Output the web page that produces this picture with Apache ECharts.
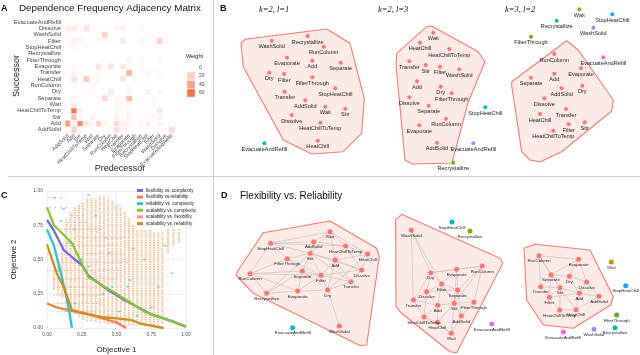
<!DOCTYPE html>
<html>
<head>
<meta charset="utf-8">
<script src="https://cdn.jsdelivr.net/npm/echarts@6/dist/echarts.min.js"></script>
<style>
html,body{margin:0;padding:0;background:#fff}
#main{width:640px;height:355px}
</style>
</head>
<body>
<div id="main"></div>
<script>
// ---------- A: adjacency matrix ----------
var ops = ['AddSolid','Add','Stir','HeatChillToTemp','Wait','Separate','Dry','RunColumn','HeatChill',
  'Transfer','Evaporate','FilterThrough','Recrystallize','StopHeatChill','Filter','WashSolid','Dissolve','EvacuateAndRefill'];

// [predecessor, successor, weight]
var heatCells = [
  ['AddSolid','Add',40],['Add','Add',5],['Stir','Add',50],['HeatChillToTemp','Add',12],['Wait','Add',5],['Separate','Add',18],
  ['Dry','Add',4],['HeatChill','Add',16],['Transfer','Add',6],['Evaporate','Add',5],['Recrystallize','Add',4],['StopHeatChill','Add',6],['WashSolid','Add',4],
  ['Add','HeatChillToTemp',60],['Stir','HeatChillToTemp',6],['HeatChill','HeatChillToTemp',4],['Evaporate','HeatChillToTemp',3],['WashSolid','HeatChillToTemp',12],
  ['Add','Stir',26],['Stir','Stir',4],['Wait','Stir',4],['HeatChill','Stir',7],['Evaporate','Stir',5],['Filter','Stir',4],['WashSolid','Stir',6],
  ['Add','AddSolid',20],['Stir','AddSolid',4],['HeatChill','AddSolid',14],['Transfer','AddSolid',4],['EvacuateAndRefill','AddSolid',14],
  ['Add','Wait',7],['HeatChillToTemp','Wait',3],['HeatChill','Wait',4],['Evaporate','Wait',3],['Filter','Wait',3],
  ['Add','Separate',4],['Dry','Separate',15],['HeatChill','Separate',3],['Evaporate','Separate',28],['Filter','Separate',3],
  ['Wait','Dry',3],['RunColumn','Dry',9],['Evaporate','Dry',6],['StopHeatChill','Dry',4],['WashSolid','Dry',4],
  ['Add','RunColumn',3],['Evaporate','RunColumn',3],
  ['Add','HeatChill',12],['HeatChillToTemp','HeatChill',22],['Separate','HeatChill',4],['Transfer','HeatChill',11],['FilterThrough','HeatChill',3],['StopHeatChill','HeatChill',3],
  ['Add','Transfer',4],['Separate','Transfer',4],['Evaporate','Transfer',30],['StopHeatChill','Transfer',5],['WashSolid','Transfer',3],
  ['Add','Evaporate',3],['Separate','Evaporate',11],['RunColumn','Evaporate',11],['Transfer','Evaporate',10],['Recrystallize','Evaporate',3],
  ['Evaporate','FilterThrough',5],['Recrystallize','FilterThrough',3],['WashSolid','FilterThrough',3],
  ['Add','StopHeatChill',3],['HeatChillToTemp','StopHeatChill',3],
  ['Add','Filter',7],['Stir','Filter',4],['Separate','Filter',3],['Dry','Filter',3],['Transfer','Filter',11],['Recrystallize','Filter',4],['WashSolid','Filter',20],['Dissolve','Filter',3],
  ['Dry','WashSolid',18],
  ['AddSolid','Dissolve',7],['Add','Dissolve',7],['HeatChillToTemp','Dissolve',11],['HeatChill','Dissolve',5],['Transfer','Dissolve',5],['Recrystallize','Dissolve',3]
];
var weightTicks = ['60','40','20','0'];

// ---------- C: pareto fronts ----------
var flexComplex = [[0,0.79],[0.05,0.71],[0.12,0.57],[0.2,0.5],[0.25,0.46],[0.3,0.38],[0.45,0.27],[0.6,0.18],[0.75,0.1],[0.9,0.05],[1.0,0.01]];
var flexReliab = [[0,0.18],[0.07,0.15],[0.2,0.12],[0.3,0.1],[0.4,0.07],[0.5,0.04],[0.57,0.0]];
var reliabComplex = [[0,0.72],[0.05,0.6],[0.1,0.4],[0.15,0.18],[0.18,0.0]];
var scalComplex = [[0,0.88],[0.05,0.75],[0.18,0.62],[0.25,0.47],[0.3,0.37],[0.5,0.25],[0.7,0.12],[1.0,0.01]];
var scalReliab = [[0,0.61],[0.07,0.4],[0.12,0.3],[0.18,0.13],[0.3,0.1],[0.4,0.08],[0.5,0.07],[0.6,0.06],[0.68,0.03],[0.84,0.0]];
// sampled solutions: [x, yLow, yHigh]
var scalReliabCloud = [[0.05,0.28,0.42],[0.08,0.25,0.45],[0.11,0.22,0.62],[0.14,0.12,0.8],[0.17,0.1,0.85],[0.2,0.1,0.88],
  [0.23,0.08,0.9],[0.26,0.06,0.92],[0.29,0.05,0.95],[0.32,0.05,0.95],[0.35,0.05,0.95],[0.38,0.04,0.96],[0.41,0.04,0.96],
  [0.44,0.03,0.95],[0.47,0.03,0.93],[0.5,0.03,0.9],[0.53,0.03,0.88],[0.56,0.02,0.85],[0.59,0.02,0.8],[0.62,0.02,0.75],
  [0.65,0.02,0.72],[0.68,0.02,0.72],[0.71,0.02,0.72],[0.74,0.02,0.72],[0.77,0.02,0.7],[0.8,0.02,0.7],[0.83,0.03,0.7],
  [0.87,0.55,0.72],[0.91,0.6,0.72],[0.95,0.62,0.72]];
// [y, xLow, xHigh]
var scalFlexCloud = [[0.72,0.1,0.4],[0.66,0.2,0.6],[0.6,0.05,0.5],[0.54,0.0,0.55],[0.48,0.05,0.6],[0.42,0.0,0.55],
  [0.36,0.05,0.5],[0.3,0.05,0.45],[0.24,0.05,0.4],[0.18,0.05,0.4],[0.12,0.08,0.35],[0.01,0,0.02]];
var reliabCloud = [[0.05,0.95],[0.12,0.87],[0.15,0.62],[0.2,0.72],[0.25,0.5],[0.3,0.38],[0.3,0.45],[0.4,0.25],[0.45,0.55],
  [0.47,0.3],[0.52,0.12],[0.55,0.2],[0.58,0.3],[0.6,0.35],[0.65,0.09],[0.7,0.5],[0.75,0.15],[0.8,0.3],[0.85,0.6],
  [0.9,0.4],[0.3,0.97],[0.35,0.82],[0.2,0.18],[0.1,0.78],[0.42,0.66],[0.62,0.58]];
var flexCloud = [[0.02,0.95],[0.06,0.95],[0.1,0.95],[0.02,0.88],[0.06,0.88],[0.1,0.88],[0.14,0.88],[0.18,0.82],[0.22,0.82],
  [0.26,0.82],[0.16,0.77],[0.2,0.77],[0.24,0.77],[0.28,0.77],[0.32,0.7],[0.36,0.7],[0.55,0.2],[0.6,0.2],[0.65,0.2]];

// ---------- B: clusterings [name, x, y, cluster] ----------
var b1Nodes = [['WashSolid',36.7,20.7,1],['Recrystallize',72.7,16,1],['RunColumn',88.7,26.7,1],['Evaporate',52,37.7,1],
  ['Add',77.3,40.7,1],['Separate',105.7,42.7,1],['Dry',34.3,52.7,1],['Filter',49.3,54,1],['FilterThrough',77.3,57.3,1],
  ['StopHeatChill',100.3,68.3,1],['Transfer',49.7,71.7,1],['AddSolid',70.3,80.3,1],['Wait',90.3,86.7,1],['Stir',110.3,88.7,1],
  ['Dissolve',56.7,95,1],['HeatChillToTemp',85.3,102.7,1],['HeatChill',82.7,120.7,1],['EvacuateAndRefill',29.3,123.3,2]];
var b1Hull = [[10,19.3],[91.7,9],[115,23.3],[129.3,78.3],[126.7,113.3],[108.3,131.7],[76.7,134],[48.3,120],[8.3,46.7],[6,23.3]];

var b2Nodes = [['Wait',43.3,12.7,1],['HeatChill',30,22.7,1],['HeatChillToTemp',59.3,29,1],['Transfer',19.3,41.3,1],
  ['Stir',35.7,45,1],['Filter',50,46.7,1],['WashSolid',69.3,49.3,1],['Add',27,61.3,1],['Dry',50.7,66.7,1],
  ['FilterThrough',61.7,73.3,1],['Dissolve',19.3,77.3,1],['Separate',38.7,85.7,1],['RunColumn',56,98.7,1],
  ['Evaporate',29.3,105.3,1],['AddSolid',47,122.7,1],['StopHeatChill',95.3,87.3,2],['EvacuateAndRefill',83.3,123.3,3],
  ['Recrystallize',63.3,142.7,4]];
var b2Hull = [[6.7,33.3],[36.7,6.7],[41.7,6],[88.3,31.7],[95,41.7],[78.3,81.7],[62,143],[22,144],[15,140],[6,45]];

var b3Nodes = [['Wait',74.3,9.3,2],['StopHeatChill',107.3,14.3,3],['Recrystallize',51.7,20.7,4],['WashSolid',88.3,27.7,5],
  ['FilterThrough',26,36.7,6],['EvacuateAndRefill',98.3,57.3,7],['RunColumn',49.3,54,1],['Evaporate',76,68.3,1],
  ['Add',49.3,73.7,1],['Separate',26,77.7,1],['Dry',77.3,85.7,1],['AddSolid',56.7,88.3,1],['Dissolve',39.3,98.3,1],
  ['Transfer',61,109,1],['HeatChill',35,114,1],['Stir',79.7,122.3,1],['Filter',63.7,124.3,1],['HeatChillToTemp',48.3,130.7,1]];
var b3Hull = [[6.7,81.7],[61.7,40.7],[73.3,50],[108.3,100],[106.7,111],[56.7,151.7],[35,162],[25,160],[16.7,151.7],[6.7,86]];

// ---------- D: flexibility vs reliability graphs ----------
var d1Nodes = [['Wait',100,16.7,1],['AddSolid',83.7,26.7,1],['StopHeatChill',40.7,28.3,1],['HeatChillToTemp',115.7,31,1],
  ['Stir',80.3,38.3,1],['FilterThrough',57.3,43.7,1],['Add',105.3,45,1],['HeatChill',137.7,39,1],['Separate',72.3,56,1],
  ['Dissolve',131.7,55,1],['Filter',91,60.3,1],['RunColumn',20,58.7,1],['Transfer',121,66.7,1],['Evaporate',67.7,76,1],
  ['Dry',97.7,75,1],['Recrystallize',36.7,78.3,1],['WashSolid',109.3,111,1],['EvacuateAndRefill',62.7,112.7,2]];
var d1Links = [['Wait','AddSolid'],['Wait','HeatChillToTemp'],['Wait','Stir'],['Wait','Add'],['Wait','StopHeatChill'],['Wait','HeatChill'],
  ['AddSolid','StopHeatChill'],['AddSolid','Stir'],['AddSolid','HeatChillToTemp'],['StopHeatChill','FilterThrough'],['StopHeatChill','Stir'],
  ['StopHeatChill','RunColumn'],['StopHeatChill','HeatChillToTemp'],['HeatChillToTemp','HeatChill'],['HeatChillToTemp','Add'],
  ['HeatChill','Dissolve'],['HeatChill','Add'],['HeatChill','Dry'],['Stir','Add'],['Stir','Filter'],['Stir','Separate'],
  ['Stir','FilterThrough'],['Stir','Transfer'],['Stir','Dissolve'],['FilterThrough','Separate'],['FilterThrough','RunColumn'],
  ['FilterThrough','Filter'],['Add','Filter'],['Add','Dissolve'],['Add','Transfer'],['Add','Dry'],['Separate','Filter'],
  ['Separate','Evaporate'],['Separate','RunColumn'],['Separate','Dry'],['Filter','Dry'],['Filter','Evaporate'],['Filter','Transfer'],
  ['Filter','Dissolve'],['RunColumn','Recrystallize'],['RunColumn','Evaporate'],['RunColumn','Filter'],['Recrystallize','Evaporate'],
  ['Recrystallize','Separate'],['Evaporate','Dry'],['Dry','Transfer'],['Dry','WashSolid'],['Transfer','Dissolve'],
  ['Dissolve','HeatChillToTemp'],['Recrystallize','Stir']];
var d1Hull = [[33.3,17.7],[100,6],[146.7,33.3],[149.3,41.7],[136.7,130],[130,130.5],[23.3,78.3],[6,60],[8.3,55]];

var d2Nodes = [['StopHeatChill',62,17,2],['Recrystallize',80,26,3],['WashSolid',21.3,25.3,1],['RunColumn',92.3,61,1],
  ['Evaporate',66.7,64.3,1],['Dry',40.7,67.7,1],['Filter',51.7,79,1],['Separate',67.7,85,1],['Dissolve',36.7,86.7,1],
  ['Transfer',23.3,95,1],['FilterThrough',84,97.3,1],['Add',47.7,100.3,1],['Stir',64.3,98.3,1],['HeatChillToTemp',34,112,1],
  ['AddSolid',71.3,111,1],['HeatChill',47.3,117.3,1],['Wait',61.3,128.3,1],['EvacuateAndRefill',101.7,119,4]];
var d2Links = [['WashSolid','Dry'],['WashSolid','Filter'],['WashSolid','Transfer'],['Dry','Evaporate'],['Dry','Filter'],['Dry','Dissolve'],
  ['Dry','Transfer'],['Evaporate','RunColumn'],['Evaporate','Filter'],['Evaporate','Separate'],['RunColumn','Separate'],
  ['RunColumn','FilterThrough'],['RunColumn','Stir'],['RunColumn','Dry'],['Filter','Separate'],['Filter','Dissolve'],['Filter','Add'],
  ['Filter','Stir'],['Separate','Stir'],['Separate','FilterThrough'],['Separate','AddSolid'],['Dissolve','Transfer'],['Dissolve','Add'],
  ['Dissolve','HeatChillToTemp'],['Transfer','HeatChillToTemp'],['Transfer','Add'],['Add','Stir'],['Add','HeatChill'],
  ['Add','HeatChillToTemp'],['Stir','AddSolid'],['Stir','FilterThrough'],['Stir','HeatChill'],['Stir','Wait'],
  ['HeatChillToTemp','HeatChill'],['HeatChill','Wait'],['AddSolid','Wait'],['FilterThrough','AddSolid'],['HeatChillToTemp','Wait'],
  ['Separate','Dissolve'],['Evaporate','Stir']];
var d2Hull = [[5.7,14.3],[11.7,9.3],[110,53.3],[112.7,58.3],[66.7,147.7],[60,146.7],[11.7,108.3],[6,101.7]];

var d3Nodes = [['Wait',96.3,22,2],['StopHeatChill',110.7,45.7,3],['FilterThrough',101.7,75,4],['Recrystallize',100,87.7,5],
  ['WashSolid',79,89.3,6],['EvacuateAndRefill',48.3,92,7],['RunColumn',24,15.7,1],['Evaporate',63.7,19.3,1],['Separate',36,34.7,1],
  ['Dry',54.3,36.3,1],['Dissolve',71.7,42,1],['Transfer',25.7,46.7,1],['Stir',45,47.7,1],['Add',64.3,53.3,1],['Filter',34.3,57.3,1],
  ['AddSolid',84,56.3,1],['HeatChillToTemp',44.7,70,1],['HeatChill',61,69.7,1]];
var d3Links = [['RunColumn','Evaporate'],['RunColumn','Separate'],['RunColumn','Transfer'],['RunColumn','Stir'],['Evaporate','Dry'],
  ['Evaporate','Dissolve'],['Evaporate','Separate'],['Separate','Dry'],['Separate','Stir'],['Separate','Transfer'],['Dry','Dissolve'],
  ['Dry','Stir'],['Dry','Add'],['Dissolve','Add'],['Dissolve','AddSolid'],['Transfer','Stir'],['Transfer','Filter'],['Stir','Add'],
  ['Stir','Filter'],['Stir','HeatChillToTemp'],['Stir','HeatChill'],['Add','AddSolid'],['Add','HeatChill'],['Filter','HeatChillToTemp'],
  ['HeatChillToTemp','HeatChill'],['AddSolid','HeatChill'],['Filter','Add'],['Separate','Filter']];
var d3Hull = [[9,8.3],[20,4.3],[75,10],[98.3,56.7],[95.7,65],[58.3,88.3],[28.3,85],[11.7,60]];

// ---------- styling ----------
var RED = '#f8766d';
var FONT = 'Liberation Sans';
var b1Colors = {1: RED, 2: '#00bfc4'};
var b2Colors = {1: RED, 2: '#00bfc4', 3: '#c77cff', 4: '#7cae00'};
var b3Colors = {1: RED, 2: '#cd9600', 3: '#00b8e7', 4: '#00c19a', 5: '#a58aff', 6: '#5bb300', 7: '#ff61cc'};
var d1Colors = {1: RED, 2: '#00bfc4'};
var d2Colors = {1: RED, 2: '#00bfc4', 3: '#7cae00', 4: '#c77cff'};
var d3Colors = {1: RED, 2: '#cd9600', 3: '#00a9ff', 4: '#5bb300', 5: '#00c19a', 6: '#a58aff', 7: '#ff61cc'};

var chart = echarts.init(document.getElementById('main'));

var grids = [], xAxes = [], yAxes = [], series = [];

// grid 0: heatmap
grids.push({left: 65, top: 19, width: 110, height: 114});
xAxes.push({gridIndex: 0, type: 'category', data: ops, name: 'Predecessor', nameLocation: 'middle', nameGap: 31,
  nameMoveOverlap: false,
  nameTextStyle: {fontSize: 9, color: '#222', fontFamily: FONT},
  axisLabel: {rotate: 45, fontSize: 5.3, interval: 0, margin: 2, color: '#444', fontFamily: FONT},
  axisLine: {show: false}, axisTick: {show: false}, splitLine: {show: false}});
yAxes.push({gridIndex: 0, type: 'category', data: ops, name: 'Successor', nameLocation: 'middle', nameGap: 44,
  nameMoveOverlap: false,
  nameTextStyle: {fontSize: 9, color: '#222', fontFamily: FONT},
  axisLabel: {fontSize: 5.8, interval: 0, margin: 4, color: '#444', fontFamily: FONT},
  axisLine: {show: false}, axisTick: {show: false}, splitLine: {show: false}});
series.push({type: 'heatmap', xAxisIndex: 0, yAxisIndex: 0,
  data: heatCells.map(function (c) { return [ops.indexOf(c[0]), ops.indexOf(c[1]), c[2]]; }),
  itemStyle: {borderColor: '#fff', borderWidth: 0.8}});

// grid 1: weight legend
grids.push({left: 187, top: 63, width: 8, height: 34});
xAxes.push({gridIndex: 1, type: 'category', data: ['w'], show: false});
yAxes.push({gridIndex: 1, type: 'category', data: weightTicks, position: 'right',
  axisLabel: {fontSize: 5, margin: 4, color: '#444', fontFamily: FONT},
  axisLine: {show: false}, axisTick: {show: false}});
series.push({type: 'heatmap', xAxisIndex: 1, yAxisIndex: 1,
  data: weightTicks.map(function (t, i) { return [0, i, +t]; }),
  itemStyle: {borderColor: '#fff', borderWidth: 0.8}});

// grid 2: pareto plot
grids.push({left: 47, top: 191, width: 139, height: 138});
var cAxis = function (gi, name, gap) {
  return {gridIndex: gi, type: 'value', min: 0, max: 1, interval: 0.25, name: name, nameLocation: 'middle', nameGap: gap,
    nameMoveOverlap: false,
    nameTextStyle: {fontSize: 8, color: '#222', fontFamily: FONT},
    axisLabel: {fontSize: 5, color: '#555', margin: 4, fontFamily: FONT, formatter: function (v) { return v.toFixed(2); }},
    axisLine: {show: false}, axisTick: {show: false},
    splitLine: {lineStyle: {color: '#e6e6e6', width: 0.6}},
    minorTick: {show: false, splitNumber: 2}, minorSplitLine: {show: true, lineStyle: {color: '#f3f3f3', width: 0.5}}};
};
xAxes.push(cAxis(2, 'Objective 1', 18));
yAxes.push(cAxis(2, 'Objective 2', 29));

series.push({type: 'custom', name: 'bg-sr', xAxisIndex: 2, yAxisIndex: 2, data: scalReliabCloud, encode: {x: 0, y: [1, 2]},
  silent: true, z: 1,
  renderItem: function (params, api) {
    var a = api.coord([api.value(0), api.value(1)]), b = api.coord([api.value(0), api.value(2)]);
    return {type: 'line', shape: {x1: a[0], y1: a[1], x2: b[0], y2: b[1]},
      style: {stroke: 'rgba(236,178,115,0.75)', lineWidth: 2, lineDash: [1.6, 0.8]}};
  }});
series.push({type: 'custom', name: 'scalability vs. flexibility', xAxisIndex: 2, yAxisIndex: 2, data: scalFlexCloud,
  encode: {x: [1, 2], y: 0}, itemStyle: {color: '#f4909a'}, silent: true, z: 2,
  renderItem: function (params, api) {
    var a = api.coord([api.value(1), api.value(0)]), b = api.coord([api.value(2), api.value(0)]);
    return {type: 'line', shape: {x1: a[0], y1: a[1], x2: b[0], y2: b[1]},
      style: {stroke: 'rgba(244,140,150,0.6)', lineWidth: 1.5, lineDash: [1.2, 1.6]}};
  }});
series.push({type: 'scatter', name: 'bg-rc', xAxisIndex: 2, yAxisIndex: 2, data: reliabCloud, symbol: 'rect',
  symbolSize: [3, 1.5], itemStyle: {color: '#4fd2d8'}, silent: true, z: 2});
series.push({type: 'scatter', name: 'bg-fc', xAxisIndex: 2, yAxisIndex: 2, data: flexCloud, symbolSize: 1.6,
  itemStyle: {color: '#a99cf5'}, silent: true, z: 2});

var lineS = function (name, data, color) {
  return {type: 'line', name: name, xAxisIndex: 2, yAxisIndex: 2, data: data, symbol: 'none', z: 5,
    itemStyle: {color: color}, lineStyle: {color: color, width: 2.3}};
};
series.push(lineS('flexibility vs. complexity', flexComplex, '#7566ee'));
series.push(lineS('flexibility vs.reliability', flexReliab, '#ff7a45'));
series.push(lineS('reliability vs. complexity', reliabComplex, '#22c9d2'));
series.push(lineS('scalability vs. complexity', scalComplex, '#86c630'));
series.push(lineS('scalability vs. reliability', scalReliab, '#c9901a'));

// layout grids for B and D
function addLayoutGrid(left, top, w, h) {
  var i = grids.length;
  grids.push({left: left, top: top, width: w, height: h});
  xAxes.push({gridIndex: i, type: 'value', min: 0, max: w, show: false});
  yAxes.push({gridIndex: i, type: 'value', min: 0, max: h, inverse: true, show: false});
  return i;
}
function hullSeries(gi, hull) {
  return {type: 'custom', xAxisIndex: gi, yAxisIndex: gi, data: [hull[0]], silent: true, z: 1,
    renderItem: function (params, api) {
      return {type: 'polygon', shape: {points: hull.map(function (p) { return api.coord(p); })},
        style: {fill: 'rgba(251,215,210,0.5)', stroke: '#ef7b72', lineWidth: 1.1, lineJoin: 'round'}};
    }};
}
function graphSeries(gi, nodes, links, colors, size, font) {
  return {type: 'graph', layout: 'none', coordinateSystem: 'cartesian2d', xAxisIndex: gi, yAxisIndex: gi,
    symbolSize: size, z: 3,
    data: nodes.map(function (n) { return {name: n[0], value: [n[1], n[2]], itemStyle: {color: colors[n[3]]}}; }),
    links: links.map(function (l) { return {source: l[0], target: l[1]}; }),
    lineStyle: {color: '#b9b2b2', width: 0.6, opacity: 0.85},
    label: {show: true, position: 'bottom', distance: 1, fontSize: font, color: '#222', fontFamily: FONT},
    emphasis: {disabled: true}};
}

var g;
g = addLayoutGrid(235, 20, 135, 150); series.push(hullSeries(g, b1Hull)); series.push(graphSeries(g, b1Nodes, [], b1Colors, 4, 5.6));
g = addLayoutGrid(390, 20, 110, 150); series.push(hullSeries(g, b2Hull)); series.push(graphSeries(g, b2Nodes, [], b2Colors, 4, 5.6));
g = addLayoutGrid(505, 0, 130, 170); series.push(hullSeries(g, b3Hull)); series.push(graphSeries(g, b3Nodes, [], b3Colors, 4, 5.6));
g = addLayoutGrid(230, 215, 155, 135); series.push(hullSeries(g, d1Hull)); series.push(graphSeries(g, d1Nodes, d1Links, d1Colors, 5, 4.4));
g = addLayoutGrid(390, 205, 120, 150); series.push(hullSeries(g, d2Hull)); series.push(graphSeries(g, d2Nodes, d2Links, d2Colors, 5, 4.4));
g = addLayoutGrid(515, 240, 120, 100); series.push(hullSeries(g, d3Hull)); series.push(graphSeries(g, d3Nodes, d3Links, d3Colors, 5, 4.4));

var tt = function (text, left, top, size, extra) {
  var ts = {fontSize: size, color: '#111', fontWeight: 'normal', fontFamily: FONT};
  for (var k in extra) ts[k] = extra[k];
  return {text: text, left: left, top: top, padding: 0, textStyle: ts};
};

var option = {
  animation: false,
  backgroundColor: '#fff',
  title: [
    tt('A', 1, 4, 9, {fontWeight: 'bold'}),
    tt('Dependence Frequency Adjacency Matrix', 19, 3, 9.8),
    tt('Weight', 186, 53, 5.5),
    tt('B', 220, 4, 9, {fontWeight: 'bold'}),
    tt('k=2, l=1', 259, 5, 8.5, {fontStyle: 'italic', fontFamily: 'Liberation Serif'}),
    tt('k=2, l=3', 378, 5, 8.5, {fontStyle: 'italic', fontFamily: 'Liberation Serif'}),
    tt('k=3, l=2', 505, 5, 8.5, {fontStyle: 'italic', fontFamily: 'Liberation Serif'}),
    tt('C', 1, 191, 9, {fontWeight: 'bold'}),
    tt('D', 221, 191, 9, {fontWeight: 'bold'}),
    tt('Flexibility vs. Reliability', 240, 191, 10)
  ],
  legend: {
    data: ['flexibility vs. complexity', 'flexibility vs.reliability', 'reliability vs. complexity',
      'scalability vs. complexity', 'scalability vs. flexibility', 'scalability vs. reliability'],
    orient: 'vertical', left: 137, top: 188, padding: 0, itemWidth: 6, itemHeight: 3, itemGap: 1.6, icon: 'rect',
    textStyle: {fontSize: 4.6, color: '#222', fontFamily: FONT, padding: [0, 0, 0, -2]}
  },
  visualMap: [{type: 'continuous', min: 0, max: 60, show: false, seriesIndex: [0, 1],
    inRange: {color: ['#ffffff', '#f4734b']}}],
  graphic: [
    {type: 'line', shape: {x1: 213.5, y1: 0, x2: 213.5, y2: 355}, style: {stroke: '#d0d0d0', lineWidth: 1}},
    {type: 'line', shape: {x1: 8, y1: 176.5, x2: 640, y2: 176.5}, style: {stroke: '#d0d0d0', lineWidth: 1}}
  ],
  grid: grids,
  xAxis: xAxes,
  yAxis: yAxes,
  series: series
};
chart.setOption(option);
</script>
</body>
</html>
